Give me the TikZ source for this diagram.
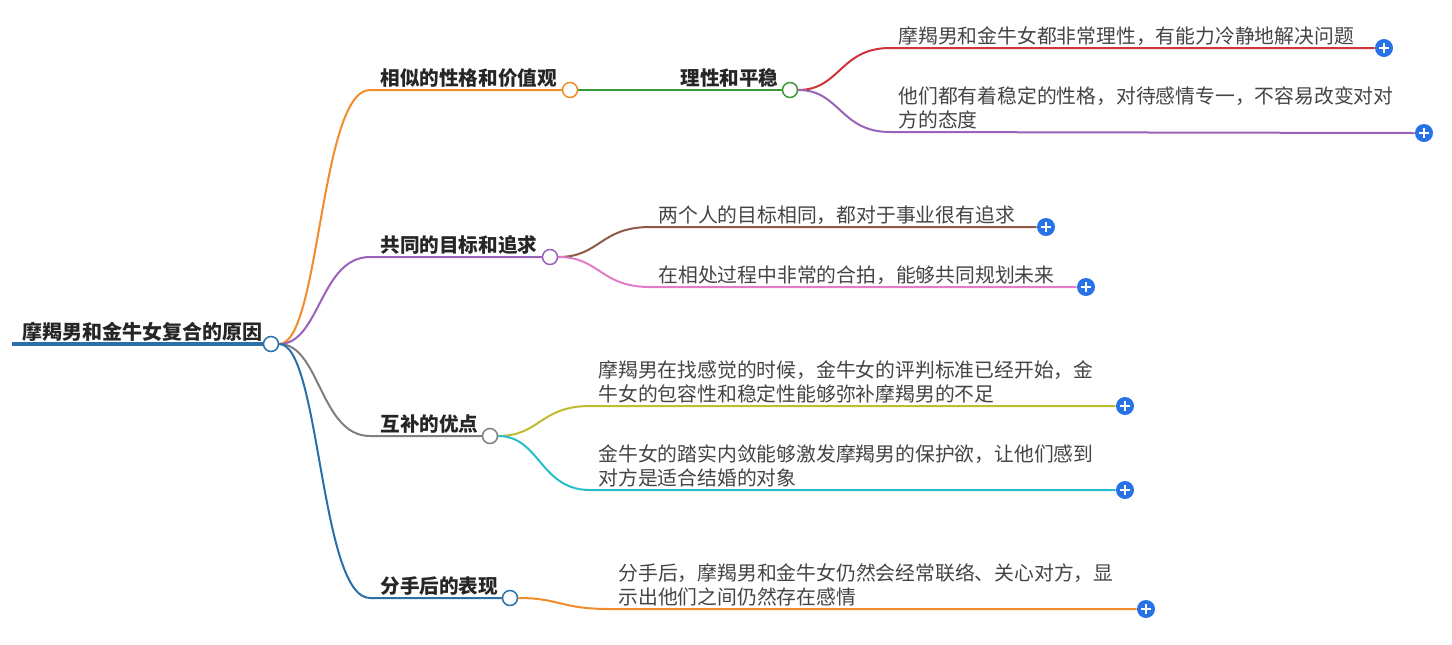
\documentclass[tikz,border=0pt]{standalone}
\usepackage{fontspec}
\setmainfont{Noto Sans CJK SC}
\definecolor{cRoot}{HTML}{2A6FA8}
\definecolor{cOrange}{HTML}{F08C2A}
\definecolor{cGreen}{HTML}{3A9A3A}
\definecolor{cRed}{HTML}{D0343A}
\definecolor{cPurple}{HTML}{9A62B8}
\definecolor{cBrown}{HTML}{8E5A48}
\definecolor{cPink}{HTML}{E07CC8}
\definecolor{cGray}{HTML}{7F7F7F}
\definecolor{cOlive}{HTML}{BDBD2E}
\definecolor{cCyan}{HTML}{26BFCB}
\definecolor{cPlus}{HTML}{2872E8}
\definecolor{cText}{HTML}{444444}
\tikzset{
  knob/.style={circle,draw=#1,fill=white,line width=0.75pt,inner sep=0pt,minimum size=7.5pt},
  lbl/.style={anchor=south west,inner sep=1pt,font=\fontsize{9.8}{12}\selectfont\bfseries,text=black!85},
  leaf/.style={anchor=south west,inner sep=1pt,align=left,font=\fontsize{9.9}{12.4}\selectfont,text=cText},
  plusbtn/.style={circle,fill=cPlus,inner sep=0pt,minimum size=9pt,
    path picture={\draw[white,line width=0.8pt] ([xshift=-2.3pt]path picture bounding box.center)--([xshift=2.3pt]path picture bounding box.center)
      ([yshift=-2.3pt]path picture bounding box.center)--([yshift=2.3pt]path picture bounding box.center);}},
  br/.style={line width=1pt}
}
\begin{document}
\begin{tikzpicture}[x=0.5pt,y=-0.5pt]
\useasboundingbox (0,0) rectangle (1452,644);

%根
\draw[cRoot,line width=2pt] (12,344)--(271,344);
\node[lbl,font=\fontsize{10}{12}\selectfont\bfseries] at (20,344) {摩羯男和金牛女复合的原因};
\node[knob=cRoot] (root) at (271,344) {};

%分支一
\draw[cOrange,br] (root.east) .. controls (320,344) and (320,90) .. (370,90)--(563,90);
\node[lbl] at (378,90) {相似的性格和价值观};
\node[knob=cOrange] (b1) at (570,90) {};
\draw[cGreen,br] (b1.east)--(783,90);
\node[lbl] at (678,90) {理性和平稳};
\node[knob=cGreen] (b1a) at (790,90) {};
\node[plusbtn] (p1) at (1384,48) {};
\node[plusbtn] (p2) at (1424,133) {};
\draw[cRed,br] (b1a.east) .. controls (840,90) and (840,48) .. (890,48)--(p1.west);
\node[leaf] at (896,48) {摩羯男和金牛女都非常理性，有能力冷静地解决问题};
\draw[cPurple,br] (b1a.east) .. controls (840,90) and (840,132) .. (890,132)--(p2.west);
\node[leaf] at (896,132) {他们都有着稳定的性格，对待感情专一，不容易改变对对\\方的态度};

%分支二
\draw[cPurple,br] (root.east) .. controls (320,344) and (320,257) .. (370,257)--(543,257);
\node[lbl] at (378,257) {共同的目标和追求};
\node[knob=cPurple] (b2) at (550,257) {};
\node[plusbtn] (p3) at (1046,227) {};
\node[plusbtn] (p4) at (1086,287) {};
\draw[cBrown,br] (b2.east) .. controls (600,257) and (600,227) .. (650,227)--(p3.west);
\node[leaf] at (656,227) {两个人的目标相同，都对于事业很有追求};
\draw[cPink,br] (b2.east) .. controls (600,257) and (600,287) .. (650,287)--(p4.west);
\node[leaf] at (656,287) {在相处过程中非常的合拍，能够共同规划未来};

%分支三
\draw[cGray,br] (root.east) .. controls (320,344) and (320,436) .. (370,436)--(483,436);
\node[lbl] at (378,436) {互补的优点};
\node[knob=cGray] (b3) at (490,436) {};
\node[plusbtn] (p5) at (1125,406) {};
\node[plusbtn] (p6) at (1125,490) {};
\draw[cOlive,br] (b3.east) .. controls (540,436) and (540,406) .. (590,406)--(p5.west);
\node[leaf] at (596,406) {摩羯男在找感觉的时候，金牛女的评判标准已经开始，金\\牛女的包容性和稳定性能够弥补摩羯男的不足};
\draw[cCyan,br] (b3.east) .. controls (540,436) and (540,490) .. (590,490)--(p6.west);
\node[leaf] at (596,490) {金牛女的踏实内敛能够激发摩羯男的保护欲，让他们感到\\对方是适合结婚的对象};

%分支四
\draw[cRoot,br] (root.east) .. controls (320,344) and (320,598) .. (370,598)--(503,598);
\node[lbl] at (378,598) {分手后的表现};
\node[knob=cRoot] (b4) at (510,598) {};
\node[plusbtn] (p7) at (1146,609) {};
\draw[cOrange,br] (b4.east) .. controls (560,598) and (560,609) .. (610,609)--(p7.west);
\node[leaf] at (616,609) {分手后，摩羯男和金牛女仍然会经常联络、关心对方，显\\示出他们之间仍然存在感情};
\end{tikzpicture}
\end{document}
